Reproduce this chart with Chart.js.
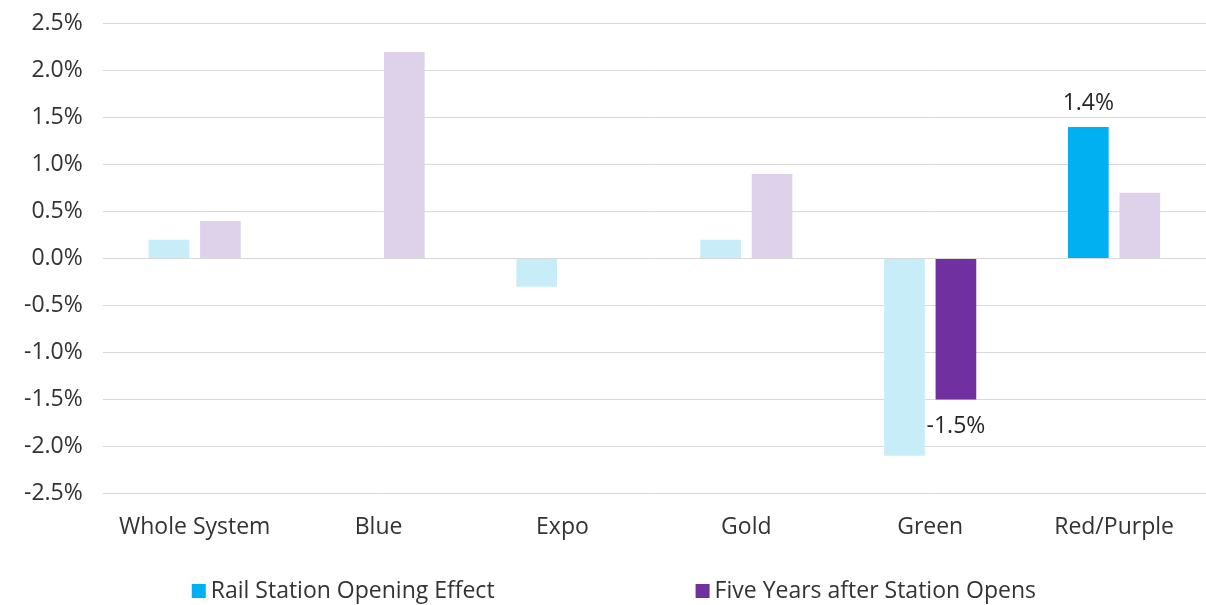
<!DOCTYPE html>
<html>
<head>
<meta charset="utf-8">
<script src="https://cdn.jsdelivr.net/npm/chart.js@4.4.0/dist/chart.umd.min.js"></script>
<style>
  body { margin: 0; background: #fff; overflow: hidden; }
  #wrap { width: 1206px; height: 615px; margin-top: -10px; }
</style>
</head>
<body>
<div id="wrap"><canvas id="stationChart" width="1206" height="615"></canvas></div>
<script>
// Chart values
const lines = ['Whole System', 'Blue', 'Expo', 'Gold', 'Green', 'Red/Purple'];
const seriesNames = ['Rail Station Opening Effect', 'Five Years after Station Opens'];
const openingEffect = [0.2, null, -0.3, 0.2, -2.1, 1.4];
const fiveYearsAfter = [0.4, 2.2, null, 0.9, -1.5, 0.7];
// which bars are emphasised (and get a value label)
const openingHighlight = [false, false, false, false, false, true];
const fiveYearsHighlight = [false, false, false, false, true, false];

const blueStrong = '#00b0f0';
const blueFaded = '#c7edf9';
const purpleStrong = '#7030a0';
const purpleFaded = '#ddd2e9';
const textColor = '#333333';
const fontFamily = '"Open Sans"';
const fontSize = 23;

const pct = v => v.toFixed(1) + '%';

// value labels on the emphasised bars
const valueLabels = {
    id: 'valueLabels',
    afterDatasetsDraw(chart) {
        const ctx = chart.ctx;
        const flags = [openingHighlight, fiveYearsHighlight];
        ctx.save();
        ctx.font = fontSize + 'px ' + fontFamily;
        ctx.fillStyle = '#262626';
        ctx.textAlign = 'center';
        chart.data.datasets.forEach((ds, i) => {
            chart.getDatasetMeta(i).data.forEach((bar, j) => {
                const v = ds.data[j];
                if (!flags[i][j] || v == null) return;
                if (v >= 0) {
                    ctx.textBaseline = 'bottom';
                    ctx.fillText(pct(v), bar.x, bar.y - 12);
                } else {
                    ctx.textBaseline = 'top';
                    ctx.fillText(pct(v), bar.x, bar.y + 15);
                }
            });
        });
        ctx.restore();
    }
};

// legend with wide gaps between the two entries
const wideLegend = {
    id: 'wideLegend',
    afterDraw(chart) {
        const ctx = chart.ctx;
        const gap = 200, box = 14;
        ctx.save();
        ctx.font = fontSize + 'px ' + fontFamily;
        const widths = chart.data.datasets.map(ds => box + 6 + ctx.measureText(ds.label).width);
        const total = widths.reduce((a, b) => a + b, 0) + gap;
        let x = (chart.chartArea.left + chart.chartArea.right) / 2 - total / 2 - 40;
        const y = chart.height - 14;
        ctx.textBaseline = 'middle';
        chart.data.datasets.forEach((ds, i) => {
            ctx.fillStyle = ds.legendColor;
            ctx.fillRect(x, y - box / 2, box, box);
            ctx.fillStyle = textColor;
            ctx.fillText(ds.label, x + box + 5, y);
            x += widths[i] + gap;
        });
        ctx.restore();
    }
};

new Chart(document.getElementById('stationChart'), {
    type: 'bar',
    data: {
        labels: lines,
        datasets: [{
            label: seriesNames[0],
            data: openingEffect,
            backgroundColor: openingHighlight.map(h => h ? blueStrong : blueFaded),
            legendColor: blueStrong
        }, {
            label: seriesNames[1],
            data: fiveYearsAfter,
            backgroundColor: fiveYearsHighlight.map(h => h ? purpleStrong : purpleFaded),
            legendColor: purpleStrong
        }]
    },
    options: {
        responsive: false,
        animation: false,
        categoryPercentage: 0.56,
        barPercentage: 0.79,
        layout: { padding: { top: 0, right: 0, left: 4, bottom: 44 } },
        scales: {
            x: {
                grid: { display: false, drawTicks: false },
                border: { display: false },
                ticks: {
                    color: textColor,
                    padding: 20,
                    font: { family: fontFamily, size: fontSize }
                }
            },
            y: {
                min: -2.5,
                max: 2.5,
                grid: { color: '#d9d9d9', drawTicks: false },
                border: { display: false },
                ticks: {
                    stepSize: 0.5,
                    color: textColor,
                    padding: 20,
                    font: { family: fontFamily, size: fontSize },
                    callback: v => pct(v)
                }
            }
        },
        plugins: {
            tooltip: { enabled: false },
            legend: { display: false }
        }
    },
    plugins: [valueLabels, wideLegend]
});
</script>
</body>
</html>
